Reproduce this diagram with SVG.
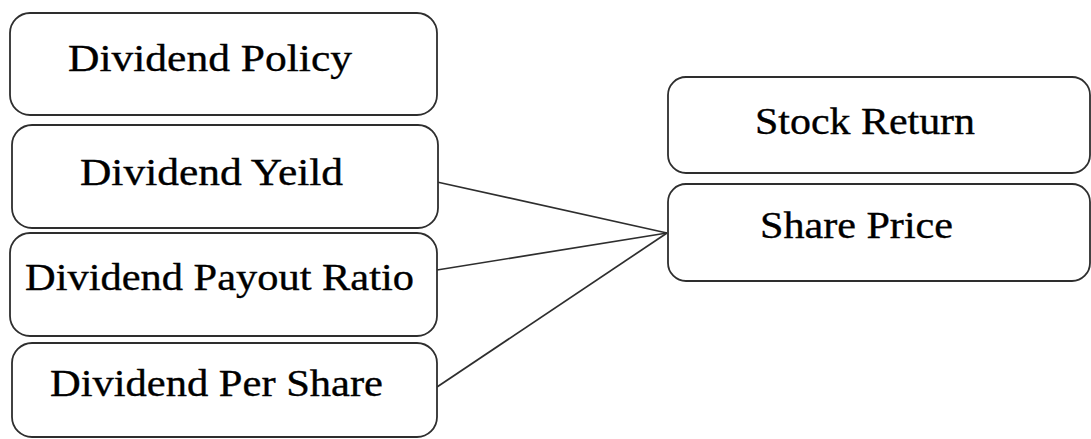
<svg xmlns="http://www.w3.org/2000/svg" width="1091" height="439" viewBox="0 0 1091 439">
<style>
.box{fill:#fff;stroke:#2e2e2e;stroke-width:1.8}
.lbl{font-family:"Liberation Serif","Times New Roman",serif;font-size:37px;fill:#000;stroke:#000;stroke-width:0.35}
.conn{stroke:#2e2e2e;stroke-width:1.7;fill:none}
</style>
<rect width="1091" height="439" fill="#fff"/>
<g id="connectors">
<line class="conn" x1="437" y1="182" x2="667" y2="233"/>
<line class="conn" x1="437" y1="270" x2="667" y2="233"/>
<line class="conn" x1="437" y1="387" x2="667" y2="233"/>
</g>
<g id="dividend-policy">
<rect class="box" x="10" y="13" width="427" height="102" rx="20"/>
<text class="lbl" x="68" y="71" textLength="284" lengthAdjust="spacingAndGlyphs">Dividend Policy</text>
</g>
<g id="dividend-yeild">
<rect class="box" x="12" y="125" width="426" height="103" rx="20"/>
<text class="lbl" x="80" y="185" textLength="263" lengthAdjust="spacingAndGlyphs">Dividend Yeild</text>
</g>
<g id="dividend-payout-ratio">
<rect class="box" x="10" y="233" width="427" height="103" rx="20"/>
<text class="lbl" x="25" y="290" textLength="389" lengthAdjust="spacingAndGlyphs">Dividend Payout Ratio</text>
</g>
<g id="dividend-per-share">
<rect class="box" x="12" y="343" width="425" height="94" rx="20"/>
<text class="lbl" x="50" y="396" textLength="333" lengthAdjust="spacingAndGlyphs">Dividend Per Share</text>
</g>
<g id="stock-return">
<rect class="box" x="668" y="77" width="422" height="96" rx="18"/>
<text class="lbl" x="755" y="134" textLength="220" lengthAdjust="spacingAndGlyphs">Stock Return</text>
</g>
<g id="share-price">
<rect class="box" x="668" y="184" width="422" height="97" rx="18"/>
<text class="lbl" x="760" y="238" textLength="193" lengthAdjust="spacingAndGlyphs">Share Price</text>
</g>
</svg>
